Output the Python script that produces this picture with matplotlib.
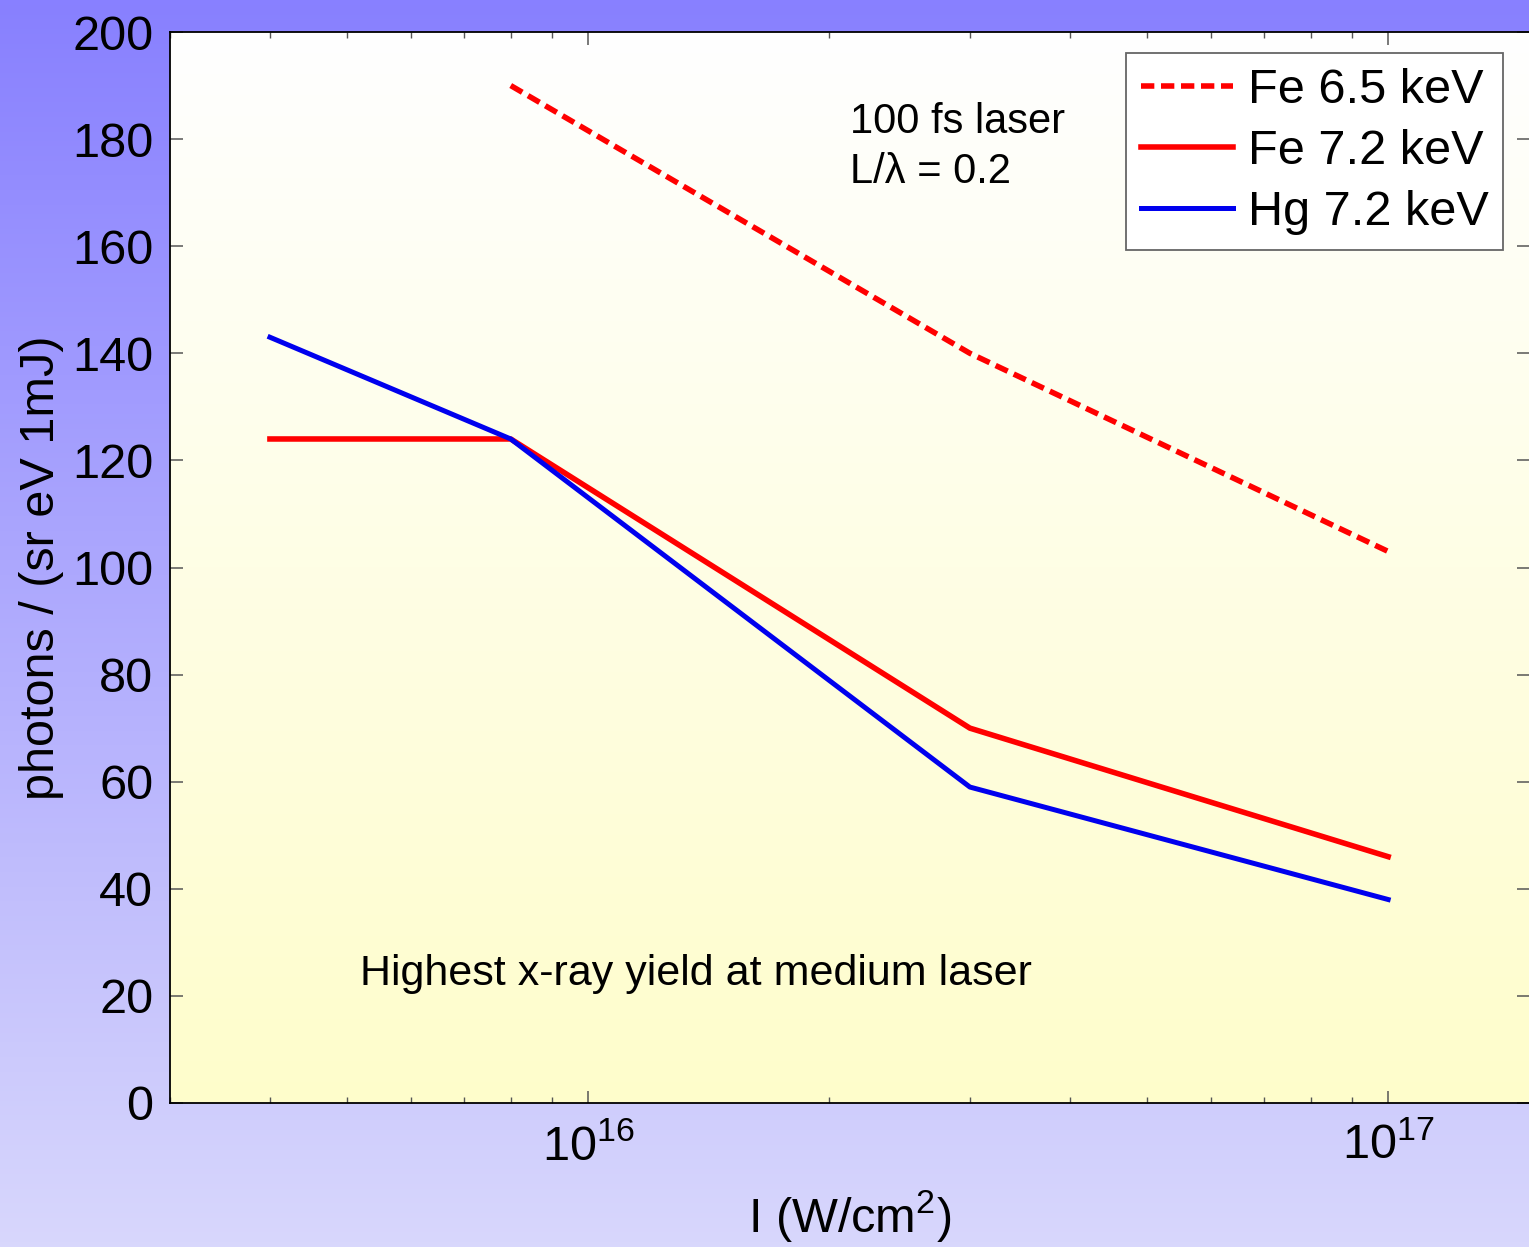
import numpy as np
import matplotlib.pyplot as plt
from matplotlib.colors import LinearSegmentedColormap
from matplotlib.ticker import LogLocator, NullFormatter, MultipleLocator

plt.rcParams['font.family'] = ['Liberation Sans', 'DejaVu Sans']
plt.rcParams['mathtext.default'] = 'regular'

# Data
intensity = [4e15, 8e15, 3e16, 1e17]
fe65_intensity = [8e15, 3e16, 1e17]
fe65_yield = [190, 140, 103]
fe72_yield = [124, 124, 70, 46]
hg72_yield = [143, 124, 59, 38]
xticks = [1e16, 1e17]
xtick_labels = ['$10^{16}$', '$10^{17}$']

fig = plt.figure(figsize=(15.29, 12.47), dpi=100)

# figure background gradient (purple -> lavender)
bg = fig.add_axes([0, 0, 1, 1], zorder=-2)
bg_cmap = LinearSegmentedColormap.from_list('bg', ['#8880ff', '#d8d7fc'])
bg.imshow(np.linspace(0, 1, 256).reshape(-1, 1), cmap=bg_cmap, aspect='auto',
          extent=[0, 1, 0, 1], origin='upper')
bg.axis('off')

pos = [170 / 1529, 1 - 1103 / 1247, 1359 / 1529, 1071 / 1247]

# axes background gradient (white -> pale yellow)
ab = fig.add_axes(pos, zorder=-1)
ab_cmap = LinearSegmentedColormap.from_list('ab', ['#ffffff', '#fefdcb'])
ab.imshow(np.linspace(0, 1, 256).reshape(-1, 1), cmap=ab_cmap, aspect='auto',
          extent=[0, 1, 0, 1], origin='upper')
ab.axis('off')

ax = fig.add_axes(pos, zorder=1)
ax.set_facecolor('none')

ax.plot(fe65_intensity, fe65_yield, color='#ff0000', lw=4, ls=(0, (2.4, 1.2)),
        label='Fe 6.5 keV')
ax.plot(intensity, fe72_yield, color='#ff0000', lw=4, label='Fe 7.2 keV')
ax.plot(intensity, hg72_yield, color='#0000ee', lw=3.6, label='Hg 7.2 keV')

ax.set_xscale('log')
ax.set_xlim(3e15, 1.5e17)
ax.set_ylim(0, 200)
ax.set_xticks(xticks)
ax.set_xticklabels(xtick_labels)
ax.xaxis.set_minor_locator(LogLocator(base=10, subs=np.arange(2, 10)))
ax.xaxis.set_minor_formatter(NullFormatter())
ax.yaxis.set_major_locator(MultipleLocator(20))

ax.tick_params(which='both', direction='in', top=True, right=True,
               labelsize=35, color='#555555', pad=12)
ax.tick_params(axis='x', which='major', pad=15)
ax.tick_params(which='major', length=9, width=1.1)
ax.tick_params(which='minor', length=4.5, width=1.0)
for s in ['left', 'bottom', 'top']:
    ax.spines[s].set_linewidth(1.3)
ax.spines['right'].set_visible(False)

ax.set_xlabel('I (W/cm$^2$)', fontsize=35, labelpad=13)
ax.set_ylabel('photons / (sr eV 1mJ)', fontsize=35, labelpad=6)

ax.text(0.5004, 0.9057, '100 fs laser', transform=ax.transAxes,
        fontsize=30, va='baseline', ha='left')
ax.text(0.5004, 0.859, 'L/λ = 0.2', transform=ax.transAxes,
        fontsize=30, va='baseline', ha='left')
ax.text(0.1398, 0.1102, 'Highest x-ray yield at medium laser',
        transform=ax.transAxes, fontsize=31, va='baseline', ha='left',
        family=['Liberation Sans Narrow', 'Liberation Sans'])

leg = ax.legend(loc='upper right', bbox_to_anchor=(0.981, 0.980),
                borderaxespad=0, fontsize=35, fancybox=False,
                edgecolor='#666666', framealpha=1, handlelength=1.9,
                handletextpad=0.3, labelspacing=0.33, borderpad=0.3)
leg.get_frame().set_linewidth(1.3)

fig.savefig('out.png', dpi=100)
